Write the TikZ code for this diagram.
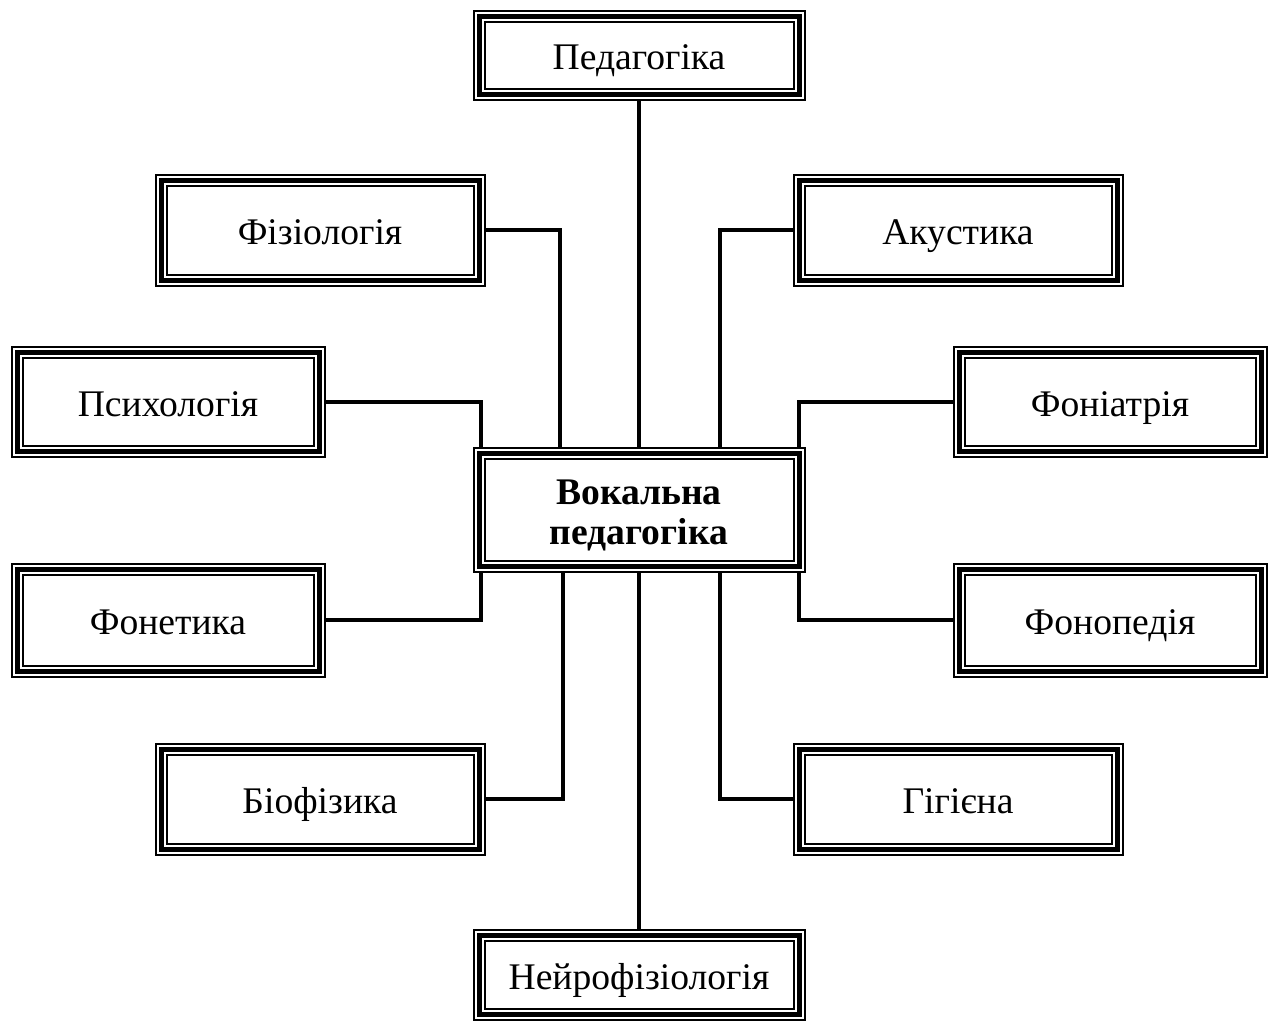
\documentclass[tikz,border=0pt]{standalone}
\usepackage{fontspec}
\setmainfont{Liberation Serif}
\begin{document}
\begin{tikzpicture}[x=0.5pt,y=-0.5pt,line join=miter,
	font=\fontsize{18.8}{20}\selectfont,
	box/.style={draw,line width=6.5pt,outer sep=3.25pt,inner sep=0pt,align=center,
		postaction={draw=white,line width=4.5pt},
		postaction={draw=black,line width=2.5pt}},
	wire/.style={line width=2pt}]
	\useasboundingbox (0,0) rectangle (1275,1024);
	% boxes: name/x/y/width/height/text
	\foreach \n/\x/\y/\w/\h/\t in {
		ped/639/55/160/39/Педагогіка,
		fiz/320/230/159/50/Фізіологія,
		aku/958/230/159/50/Акустика,
		psy/168/402/151/49.5/Психологія,
		fnt/1110/402/151/49.5/Фоніатрія,
		fon/168/620/151/51/Фонетика,
		fpd/1110/620/151/51/Фонопедія,
		bio/320/799/159/50/Біофізика,
		gig/958/799/159/50/Гігієна,
		neu/639/975/160/39.5/Нейрофізіологія}
	\node[box,minimum width=\w pt,minimum height=\h pt,text height=14pt,text depth=0pt]
		(\n) at (\x,\y) {\t};
	\node[box,minimum width=160pt,minimum height=56.5pt] (centre) at (639,510)
		{\rule{0pt}{17.5pt}\textbf{Вокальна}\\\textbf{педагогіка}};
	% connectors
	\draw[wire] (ped.south) -- (centre.north);
	\draw[wire] (neu.north) -- (centre.south);
	\foreach \n/\a/\c/\e in {fiz/east/560/north,aku/west/720/north,
		psy/east/481/north,fnt/west/799/north,
		fon/east/481/south,fpd/west/799/south,
		bio/east/563/south,gig/west/720/south}
	\draw[wire] (\n.\a) -| (centre.\e -| \c,0);
\end{tikzpicture}
\end{document}
